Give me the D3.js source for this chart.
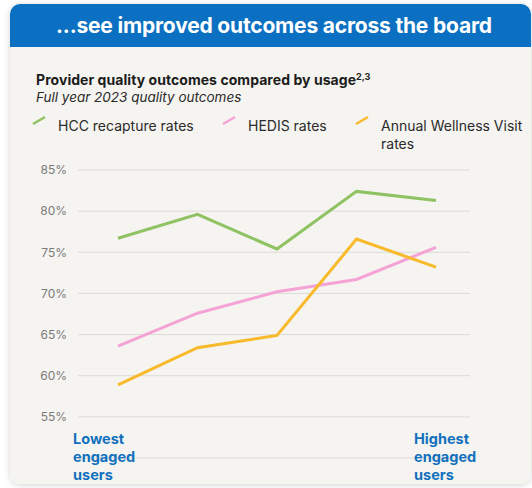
<!DOCTYPE html>
<html>
<head>
<meta charset="utf-8">
<script src="https://cdn.jsdelivr.net/npm/d3@7"></script>
<style>
  html, body { margin: 0; padding: 0; background: #ffffff; }
  svg { display: block; font-family: Inter, "Noto Sans", sans-serif; }
</style>
</head>
<body>
<div id="chart"></div>
<script>
// data
const steps = [1, 2, 3, 4, 5];
const hcc = [76.7, 79.6, 75.4, 82.4, 81.3];
const hedis = [63.6, 67.6, 70.2, 71.7, 75.6];
const awv = [58.9, 63.4, 64.9, 76.6, 73.2];
const yTicks = [50, 55, 60, 65, 70, 75, 80, 85];
const seriesNames = ["HCC recapture rates", "HEDIS rates", "Annual Wellness Visit"];
const seriesColors = ["#8fc262", "#f5a3d6", "#f8b92b"];

let width = 532, height = 488;

let svg = d3.select("#chart")
    .append("svg")
    .attr("width", width)
    .attr("height", height);

let defs = svg.append("defs");
let shadow = defs.append("filter")
    .attr("id", "shadow")
    .attr("x", "-10%").attr("y", "-10%")
    .attr("width", "120%").attr("height", "120%");
shadow.append("feDropShadow")
    .attr("dx", 0).attr("dy", 1)
    .attr("stdDeviation", 3)
    .attr("flood-color", "#000")
    .attr("flood-opacity", 0.18);

let clip = defs.append("clipPath").attr("id", "cardclip");
clip.append("rect")
    .attr("x", 10).attr("y", 4)
    .attr("width", 521).attr("height", 480)
    .attr("rx", 10);

// card
svg.append("rect")
    .attr("x", 10).attr("y", 4)
    .attr("width", 521).attr("height", 480)
    .attr("rx", 10)
    .attr("fill", "#f5f4f0")
    .attr("filter", "url(#shadow)");

// blue header band
svg.append("rect")
    .attr("clip-path", "url(#cardclip)")
    .attr("x", 10).attr("y", 4)
    .attr("width", 522).attr("height", 43)
    .attr("fill", "#0b70c1");

svg.append("text")
    .attr("x", 274).attr("y", 33)
    .attr("text-anchor", "middle")
    .attr("fill", "white")
    .attr("font-weight", 700)
    .style("font-size", "21px")
    .attr("textLength", 436)
    .text("...see improved outcomes across the board");

// titles
let title = svg.append("text")
    .attr("x", 36).attr("y", 85)
    .attr("fill", "#1c1c1c")
    .attr("font-weight", 700)
    .style("font-size", "14px");
title.append("tspan")
    .attr("textLength", 320)
    .text("Provider quality outcomes compared by usage");
title.append("tspan")
    .attr("dy", -5)
    .style("font-size", "9px")
    .text("2,3");

svg.append("text")
    .attr("x", 36).attr("y", 102)
    .attr("fill", "#2a2a2a")
    .attr("font-style", "italic")
    .style("font-size", "13.5px")
    .text("Full year 2023 quality outcomes");

// legend
const legendX = [33, 223, 356];
seriesNames.forEach((name, i) => {
    let g = svg.append("g").attr("transform", "translate(" + legendX[i] + ",0)");
    g.append("line")
        .attr("x1", 0).attr("y1", 124)
        .attr("x2", 12).attr("y2", 117)
        .attr("stroke", seriesColors[i])
        .attr("stroke-width", 2.5);
    g.append("text")
        .attr("x", 25).attr("y", 131)
        .attr("fill", "#2a2a2a")
        .style("font-size", "14px")
        .text(name);
});
svg.append("text")
    .attr("x", 381).attr("y", 149)
    .attr("fill", "#2a2a2a")
    .style("font-size", "14px")
    .text("rates");

// plot
let x = d3.scaleLinear()
    .domain([1, 5])
    .range([118, 436]);

let y = d3.scaleLinear()
    .domain([50, 85])
    .range([458, 170]);

let grid = svg.append("g");
grid.selectAll("line")
    .data(yTicks)
    .enter()
    .append("line")
    .attr("x1", 78).attr("x2", 470)
    .attr("y1", d => y(d)).attr("y2", d => y(d))
    .attr("stroke", "#dcdbd7")
    .attr("stroke-width", 1);

let yAxis = d3.axisLeft(y)
    .tickValues(yTicks.filter(d => d >= 55))
    .tickFormat(d => d + "%")
    .tickSize(0)
    .tickPadding(0);

let ax = svg.append("g")
    .attr("transform", "translate(67,0)")
    .call(yAxis);
ax.select(".domain").remove();
ax.selectAll("text")
    .attr("fill", "#7a7a7a")
    .attr("font-family", "Inter, 'Noto Sans', sans-serif")
    .style("font-size", "12px");

let line = d3.line()
    .x((d, i) => x(steps[i]))
    .y(d => y(d));

[hcc, hedis, awv].forEach((s, i) => {
    svg.append("path")
        .datum(s)
        .attr("fill", "none")
        .attr("stroke", seriesColors[i])
        .attr("stroke-width", 3)
        .attr("stroke-linejoin", "miter")
        .attr("d", line);
});

// end labels
const endLabels = [["Lowest", "engaged", "users"], ["Highest", "engaged", "users"]];
const endX = [73, 414];
endLabels.forEach((lines, j) => {
    let t = svg.append("text")
        .attr("x", endX[j]).attr("y", 444)
        .attr("fill", "#1170bd")
        .attr("font-weight", 700)
        .style("font-size", "14.5px");
    lines.forEach((l, k) => {
        t.append("tspan")
            .attr("x", endX[j])
            .attr("dy", k === 0 ? 0 : 18)
            .text(l);
    });
});
</script>
</body>
</html>
